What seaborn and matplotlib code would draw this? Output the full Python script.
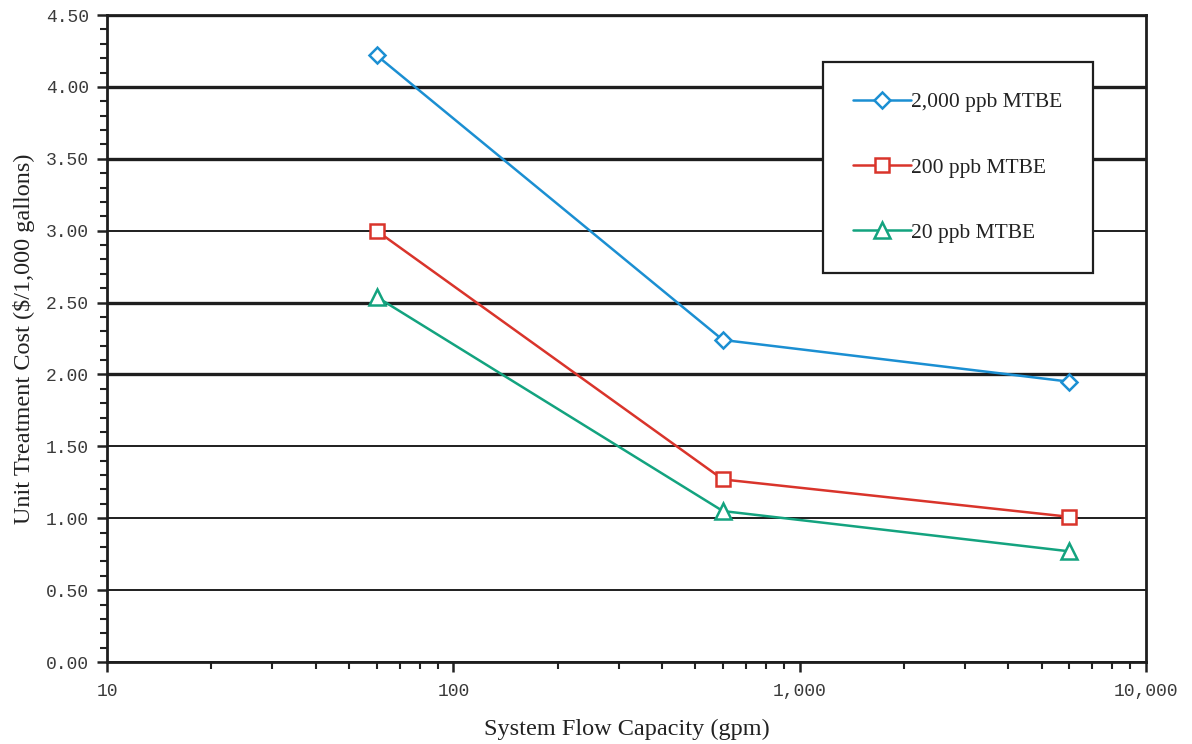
import numpy as np
import pandas as pd
import matplotlib
matplotlib.use("Agg")
import matplotlib.pyplot as plt
import matplotlib.ticker as mticker
import seaborn as sns

# Unit treatment cost vs. system flow capacity for three MTBE influent levels
flow_gpm = [60, 600, 6000]
cost_2000ppb = [4.22, 2.24, 1.95]
cost_200ppb = [3.00, 1.27, 1.01]
cost_20ppb = [2.54, 1.05, 0.77]

series_labels = ["2,000 ppb MTBE", "200 ppb MTBE", "20 ppb MTBE"]
series_colors = ["#1b8fd2", "#d9342b", "#13a37f"]
series_markers = ["D", "s", "^"]
series_sizes = [8, 10, 11]

x_ticks = [10, 100, 1000, 10000]
x_tick_labels = ["10", "100", "1,000", "10,000"]
y_ticks = [0.0, 0.5, 1.0, 1.5, 2.0, 2.5, 3.0, 3.5, 4.0, 4.5]

sns.set_style("white")
plt.rcParams["font.family"] = ["Liberation Serif", "DejaVu Serif"]

fig = plt.figure(figsize=(11.92, 7.44), dpi=100)
ax = fig.add_axes([0.0898, 0.1102, 0.8716, 0.8696])

df = pd.DataFrame({
    "flow": flow_gpm * 3,
    "cost": cost_2000ppb + cost_200ppb + cost_20ppb,
    "series": np.repeat(series_labels, len(flow_gpm)),
})

for label, color, marker, ms in zip(series_labels, series_colors,
                                    series_markers, series_sizes):
    sub = df[df["series"] == label]
    sns.lineplot(data=sub, x="flow", y="cost", ax=ax, color=color,
                 marker=marker, markersize=ms, markerfacecolor="white",
                 markeredgecolor=color, markeredgewidth=1.8,
                 linewidth=1.8, label=label, zorder=3)

ax.set_xscale("log")
ax.set_xlim(10, 10000)
ax.set_ylim(0, 4.5)

ax.set_xticks(x_ticks)
ax.set_xticklabels(x_tick_labels)
ax.xaxis.set_minor_locator(mticker.LogLocator(base=10, subs=np.arange(2, 10)))
ax.xaxis.set_minor_formatter(mticker.NullFormatter())
ax.set_yticks(y_ticks)
ax.yaxis.set_major_formatter(mticker.FormatStrFormatter("%.2f"))
ax.yaxis.set_minor_locator(mticker.MultipleLocator(0.1))

ax.tick_params(axis="both", which="both", bottom=True, left=True,
               top=False, right=False)
ax.tick_params(axis="both", which="major", direction="out", length=7,
               width=1.8, color="#222222", labelsize=13,
               labelcolor="#3a3a3a", labelfontfamily="Liberation Mono")
ax.tick_params(axis="x", which="major", pad=8)
ax.tick_params(axis="y", which="major", pad=6)
ax.tick_params(axis="both", which="minor", direction="out", length=5,
               width=1.5, color="#222222")

# horizontal grid at each major y tick
ax.grid(False)
ax.yaxis.grid(True, which="major", color="#1e1e1e", linewidth=1.5)
thick = {4.5, 4.0, 3.5, 2.5, 2.0}
for val, gl in zip(ax.get_yticks(), ax.yaxis.get_gridlines()):
    gl.set_linewidth(2.4 if round(val, 2) in thick else 1.4)
ax.set_axisbelow(True)

for spine in ax.spines.values():
    spine.set_color("#1e1e1e")
    spine.set_linewidth(2.0)

ax.set_xlabel("System Flow Capacity (gpm)", fontsize=17.5, color="#222222",
              labelpad=14)
ax.set_ylabel("Unit Treatment Cost (\\$/1,000 gallons)", fontsize=17.5,
              color="#222222", labelpad=8)

leg = ax.legend(loc="upper left", bbox_to_anchor=(0.689, 0.927),
                borderaxespad=0, frameon=True, fancybox=False,
                fontsize=15.5, labelspacing=2.1, borderpad=1.4,
                handlelength=2.7, handletextpad=0.0)
leg.get_frame().set_edgecolor("#1e1e1e")
leg.get_frame().set_linewidth(1.6)
leg.get_frame().set_facecolor("white")
leg.get_frame().set_alpha(1)
for t in leg.get_texts():
    t.set_color("#222222")

fig.savefig("out.png", dpi=100, facecolor="white")
